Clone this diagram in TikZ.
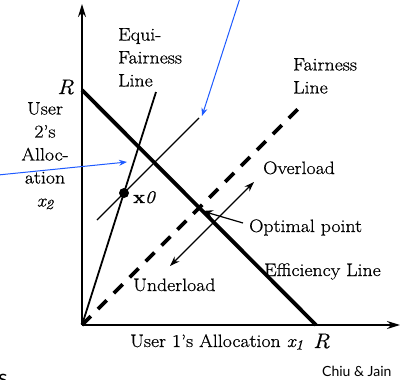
\documentclass[tikz,border=0pt]{standalone}
\usepackage{fontspec}
\setmainfont{Latin Modern Roman}[FakeStretch=1.1,FakeBold=0.6]
\newfontfamily\creditfont{Lato}
\usetikzlibrary{arrows.meta}
\definecolor{ptrblue}{RGB}{30,90,255}
\newcommand{\varsub}[2]{\textit{#1\kern-0.3pt\raisebox{-2.5pt}{\fontsize{14}{14}\selectfont #2}}}
\begin{document}
\begin{tikzpicture}[x=1pt,y=-1pt,
  lbl/.style={inner sep=0pt, font=\fontsize{18}{23}\selectfont},
  bigR/.style={inner sep=0pt, font=\fontsize{21}{24}\selectfont\itshape},
  axisline/.style={line width=1.8pt, -{Stealth[length=13pt,width=8pt]}},
  effline/.style={line width=3.8pt},
  fairline/.style={line width=3.8pt, dash pattern=on 12.5pt off 10pt},
  equiline/.style={line width=1.8pt},
  thinline/.style={line width=1.3pt},
  dblarrow/.style={line width=1.2pt, {Stealth[length=10pt,width=7pt]}-{Stealth[length=10pt,width=7pt]}},
  ptrarrow/.style={line width=1.2pt, -{Stealth[length=11pt,width=8pt]}},
  bluearrow/.style={ptrblue, line width=1pt, -{Stealth[length=8pt,width=6pt]}},
  dotnode/.style={circle, fill=black, minimum size=10pt, inner sep=0pt}
]
\useasboundingbox (0,0) rectangle (402,380);

% key points
\coordinate (O) at (82,325);
\coordinate (Ytop) at (82,4);
\coordinate (Xend) at (400,325);
\coordinate (Ry) at (82,90);
\coordinate (Rx) at (316,325);
\coordinate (Fend) at (300,107);
\coordinate (Eend) at (156,92);
\coordinate (Ta) at (97,220);
\coordinate (Tb) at (199,118);
\coordinate (Da) at (170,266);
\coordinate (Db) at (254,182);
\coordinate (Opt) at (202,211);
\coordinate (OptTail) at (243,223);
\coordinate (B1s) at (240,-2);
\coordinate (B1e) at (202,116);
\coordinate (B2s) at (-2,175);
\coordinate (B2e) at (127,162);

% lines
\draw[axisline] (O) -- (Ytop);
\draw[axisline] (O) -- (Xend);
\draw[effline] (Ry) -- (Rx);
\draw[fairline] (O) -- (Fend);
\draw[equiline] (O) -- (Eend);
\draw[thinline] (Ta) -- (Tb);
\node[dotnode] (x0) at (124,193) {};
\draw[dblarrow] (Da) -- (Db);
\draw[ptrarrow] (OptTail) -- (Opt);
\draw[bluearrow] (B1s) -- (B1e);
\draw[bluearrow] (B2s) -- (B2e);

% labels
\node[lbl, anchor=north west, align=left] (equilbl) at (118,28) {Equi-\\Fairness\\Line};
\node[lbl, anchor=north west, align=left] (fairlbl) at (293,58) {Fairness\\Line};
\node[lbl, anchor=north, align=center] (ylbl) at (45,102) {User\\2's\\Alloc-\\ation\\\varsub{x}{2}};
\node[bigR, anchor=base east] (Rylbl) at (74,94) {R};
\node[bigR, anchor=base west] (Rxlbl) at (313,348) {R};
\node[lbl, anchor=base west] (xlbl) at (130,347) {User 1's Allocation \varsub{x}{1}};
\node[lbl, anchor=base west] (x0lbl) at (133,203) {\textbf{x}\textit{0}};
\node[lbl, anchor=base west] (overlbl) at (263,174) {Overload};
\node[lbl, anchor=base west] (optlbl) at (249,232) {Optimal point};
\node[lbl, anchor=base west] (efflbl) at (264,276) {Efficiency Line};
\node[lbl, anchor=base west] (underlbl) at (133,291) {Underload};
\node[inner sep=0pt, anchor=base west, font=\creditfont\fontsize{14}{16}\selectfont] (credit) at (322,376) {Chiu \& Jain};
\node[inner sep=0pt, anchor=base west, font=\creditfont\fontsize{22}{24}\selectfont] (cut) at (-2,385) {s};
\end{tikzpicture}
\end{document}
